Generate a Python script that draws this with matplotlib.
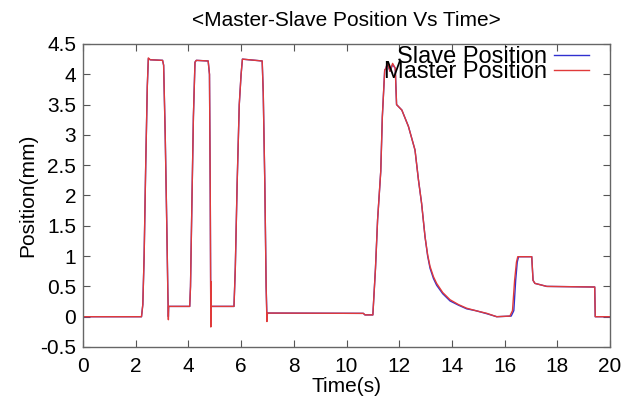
import matplotlib
matplotlib.use("Agg")
import matplotlib.pyplot as plt

plt.rcParams['font.family'] = ['Liberation Sans', 'DejaVu Sans']

master_t = [0, 2.22, 2.27, 2.32, 2.38, 2.44, 2.48, 2.55, 3.02, 3.06, 3.12, 3.18, 3.22, 3.24, 3.25,
            4.05, 4.08, 4.13, 4.19, 4.25, 4.3, 4.75, 4.8, 4.83, 4.85, 4.86, 4.87, 4.9,
            5.73, 5.78, 5.85, 5.93, 6.0, 6.05, 6.8, 6.84, 6.9, 6.95, 6.98, 7.0,
            10.64, 10.7, 11.0, 11.1, 11.18, 11.3, 11.36, 11.45, 11.5, 11.55, 11.65, 11.75, 11.85, 11.9,
            12.1, 12.35, 12.6, 12.73, 12.85, 12.98, 13.08, 13.17, 13.3, 13.42, 13.65, 13.93, 14.25,
            14.56, 14.9, 15.32, 15.7,
            16.2, 16.3, 16.38, 16.45, 16.5, 17.03, 17.08, 17.15, 17.6, 19.42, 19.44, 20]
master_y = [0, 0, 0.2, 1.0, 2.5, 3.8, 4.27, 4.24, 4.23, 4.15, 3.0, 1.5, 0.4, -0.05, 0.17,
            0.17, 0.5, 1.8, 3.3, 4.2, 4.23, 4.22, 4.0, 2.0, -0.17, 0.58, 0.17, 0.17,
            0.17, 0.8, 2.2, 3.5, 4.0, 4.25, 4.22, 3.7, 2.2, 0.5, -0.08, 0.06,
            0.055, 0.03, 0.03, 0.8, 1.6, 2.4, 3.3, 4.07, 4.1, 4.2, 4.05, 4.18, 4.1, 3.5,
            3.41, 3.14, 2.75, 2.26, 1.87, 1.32, 1.02, 0.83, 0.66, 0.55, 0.4, 0.28, 0.2,
            0.14, 0.1, 0.056, 0.0,
            0.01, 0.1, 0.6, 0.9, 0.99, 0.99, 0.6, 0.55, 0.5, 0.49, 0.0, 0.0]

slave_t = [0, 2.22, 2.27, 2.32, 2.38, 2.44, 2.48, 2.55, 3.02, 3.06, 3.12, 3.18, 3.22, 3.24, 3.25,
           4.05, 4.08, 4.13, 4.19, 4.25, 4.3, 4.75, 4.8, 4.83, 4.85, 4.87, 4.9,
           5.73, 5.78, 5.85, 5.93, 6.0, 6.05, 6.8, 6.84, 6.9, 6.95, 6.98, 7.0,
           10.64, 10.7, 11.0, 11.1, 11.18, 11.3, 11.36, 11.45, 11.5, 11.55, 11.65, 11.75, 11.85, 11.9,
           12.1, 12.35, 12.6, 12.73, 12.85, 12.98, 13.08, 13.17, 13.3, 13.42, 13.65, 13.93, 14.25,
           14.56, 14.9, 15.32, 15.7,
           16.25, 16.35, 16.42, 16.48, 16.53, 17.03, 17.08, 17.15, 17.6, 19.42, 19.44, 20]
slave_y = [0, 0, 0.2, 1.0, 2.5, 3.8, 4.26, 4.24, 4.23, 4.15, 3.0, 1.5, 0.4, 0.0, 0.17,
           0.17, 0.5, 1.8, 3.3, 4.2, 4.23, 4.22, 4.0, 2.0, 0.0, 0.17, 0.17,
           0.17, 0.8, 2.2, 3.5, 4.0, 4.25, 4.22, 3.7, 2.2, 0.5, 0.0, 0.06,
           0.055, 0.03, 0.03, 0.8, 1.6, 2.4, 3.3, 4.07, 4.1, 4.18, 4.05, 4.16, 4.1, 3.5,
           3.41, 3.14, 2.75, 2.26, 1.87, 1.32, 1.0, 0.8, 0.63, 0.52, 0.38, 0.26, 0.19,
           0.13, 0.1, 0.05, 0.0,
           0.01, 0.1, 0.6, 0.9, 0.99, 0.99, 0.6, 0.55, 0.5, 0.49, 0.0, 0.0]

x_ticks = [0, 2, 4, 6, 8, 10, 12, 14, 16, 18, 20]
y_ticks = [-0.5, 0, 0.5, 1, 1.5, 2, 2.5, 3, 3.5, 4, 4.5]

fig = plt.figure(figsize=(6.39, 3.98), dpi=100)
ax = fig.add_axes([83/639, 1-347/398, (610-83)/639, (347-44)/398])

ax.plot(slave_t, slave_y, color='#3030d0', lw=1.0, label='Slave Position')
ax.plot(master_t, master_y, color='#e03a3a', lw=1.0, label='Master Position')

ax.set_xlim(0, 20)
ax.set_ylim(-0.5, 4.5)
ax.set_xticks(x_ticks)
ax.set_xticklabels([str(v) for v in x_ticks])
ax.set_yticks(y_ticks)
ax.set_yticklabels(['-0.5', '0', '0.5', '1', '1.5', '2', '2.5', '3', '3.5', '4', '4.5'])
ax.tick_params(direction='in', top=True, right=True, length=5, width=0.8,
               labelsize=15, colors='#555555', labelcolor='black')
ax.tick_params(axis='x', pad=7)
ax.tick_params(axis='y', pad=5)
for s in ax.spines.values():
    s.set_color('#666666')
    s.set_linewidth(1.0)

ax.set_xlabel('Time(s)', fontsize=15, labelpad=1)
ax.set_ylabel('Position(mm)', fontsize=15, labelpad=2)
ax.set_title('<Master-Slave Position Vs Time>', fontsize=15, pad=13)

leg = ax.legend(loc='upper right', frameon=False, markerfirst=False, fontsize=17,
                labelspacing=-0.28, handlelength=1.5, handletextpad=0.3,
                borderaxespad=0, bbox_to_anchor=(0.979, 1.025))

fig.savefig('out.png', dpi=100)
